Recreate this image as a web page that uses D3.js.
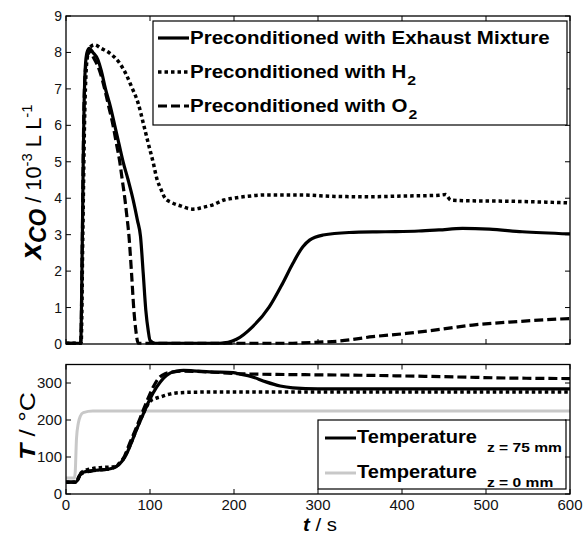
<!DOCTYPE html>
<html><head><meta charset="utf-8">
<script src="https://cdn.jsdelivr.net/npm/d3@7"></script>
<style>body{margin:0;background:#fff}svg{display:block}svg text{font-family:Arial,"Liberation Sans",Helvetica,sans-serif}</style>
</head><body><svg id="c" width="584" height="535" font-family="Arial, 'Liberation Sans', sans-serif"></svg>
<script>
// ---- data ----
const xTicks = [0,100,200,300,400,500,600];
const coTicks = [0,1,2,3,4,5,6,7,8,9];
const tTicks = [0,100,200,300];
const coLegend = ["Preconditioned with Exhaust Mixture","Preconditioned with H","Preconditioned with O"];
const coLegendSub = ["","2","2"];
const tLegend = ["Temperature","Temperature"];
const tLegendSub = ["z = 75 mm","z = 0 mm"];

// x_CO in 10^-3 L/L, [t (s), value]
const coExhaust = [[0,0.02],[17.5,0.02],[19,2],[20.5,5],[21.5,6.5],[23,7.6],[25,8.0],[27.7,8.11],[32,8.0],[38,7.8],[42,7.5],[47,7.0],[53,6.5],[58,6.0],[63,5.5],[68,5.0],[74,4.5],[80,3.95],[85,3.4],[88.7,2.95],[91.9,1.95],[95,0.93],[98,0.35],[100,0.1],[106,0.02],[183,0.02],[203,0.13],[222,0.47],[242,1.02],[258,1.67],[270,2.21],[282,2.67],[290,2.85],[306,2.99],[337,3.06],[380,3.08],[420,3.1],[444,3.13],[472,3.17],[504,3.15],[543,3.08],[600,3.02]];
const coH2 = [[0,0.02],[18,0.02],[20,3],[22,6],[25,7.8],[29,8.15],[34,8.21],[42,8.11],[52,7.98],[64,7.7],[72,7.38],[78,7.06],[86,6.6],[92,6.06],[98,5.5],[104,4.96],[108,4.55],[113,4.25],[118,4.0],[126,3.88],[135,3.8],[151,3.7],[163,3.75],[175,3.82],[188,3.95],[199,4.0],[215,4.05],[238,4.09],[278,4.09],[320,4.05],[360,4.04],[400,4.06],[444,4.08],[452,4.1],[458,3.95],[480,3.93],[520,3.92],[560,3.9],[600,3.87]];
const coO2 = [[0,0.02],[17.5,0.02],[19.5,3],[21,6],[23,7.5],[26,7.95],[29,8.0],[33,7.85],[40,7.5],[46,7.0],[51,6.5],[56,6.0],[60,5.5],[64,5.0],[67,4.5],[70,4.0],[72,3.6],[75,2.95],[78,1.95],[80.8,0.93],[83,0.4],[86,0.02],[260,0.02],[300,0.05],[325,0.08],[365,0.2],[405,0.29],[445,0.4],[484,0.52],[540,0.62],[600,0.7]];

// Temperature in °C, [t (s), value]
const tExhaust = [[0,32],[10.7,32],[13,35],[16.6,52],[20,58],[24.6,61],[40,65],[50,67],[56,70],[62,78],[68,92],[72,108],[76,129],[84,174],[91.8,215],[99.8,256],[107.7,288],[113,305],[119.6,320],[125,328],[131.5,332],[140,334],[151,333],[171,330],[199,328],[207,324],[220,318],[238,303],[255,292],[270,287],[300,284],[400,284],[500,284],[600,284]];
const tH2 = [[0,32],[11,32],[14,40],[17,55],[22,63],[30,68],[45,72],[55,73],[62,80],[68,95],[76,130],[84,176],[92,218],[99.8,250],[106,258],[112,262],[120,268],[131,273],[150,275],[200,276],[300,276],[400,276],[500,276],[600,276]];
const tO2 = [[0,32],[11,32],[14,38],[17,52],[22,58],[30,62],[45,66],[55,69],[62,78],[68,94],[72,115],[76,138],[82,170],[90,215],[97,255],[104,290],[110,312],[118,325],[128,330],[140,332],[170,330],[207,325],[260,323],[350,321],[450,317],[540,313],[600,312]];
const tInlet = [[0,43],[10,43],[11,60],[12.5,150],[14.7,192],[17,210],[20.6,220],[32,224],[100,224],[600,224]];

// ---- drawing ----
const svg = d3.select("#c");
const L = 66, R = 570;
const x = d3.scaleLinear().domain([0,600]).range([L,R]);
const yT = d3.scaleLinear().domain([0,9]).range([344,16]);
const yB = d3.scaleLinear().domain([0,350]).range([494,364.5]);

const styles = {
  solid: {dash:null, color:"#000", w:3.2},
  dotted: {dash:"3.5,3", color:"#000", w:3.5},
  dashed: {dash:"9,4", color:"#000", w:3.2},
  gray: {dash:null, color:"#c8c8c8", w:3}
};

function frame(y){
  const r = y.range();
  svg.append("rect").attr("x",L).attr("y",r[1]).attr("width",R-L).attr("height",r[0]-r[1])
    .attr("fill","none").attr("stroke","#000").attr("stroke-width",1.3);
}
function ticks(y, yt, fs, showX){
  const r = y.range();
  const g = svg.append("g").attr("stroke","#000").attr("stroke-width",1);
  xTicks.forEach(t=>{
    g.append("line").attr("x1",x(t)).attr("x2",x(t)).attr("y1",r[0]).attr("y2",r[0]-5);
    g.append("line").attr("x1",x(t)).attr("x2",x(t)).attr("y1",r[1]).attr("y2",r[1]+5);
  });
  yt.forEach(v=>{
    g.append("line").attr("x1",L).attr("x2",L+5).attr("y1",y(v)).attr("y2",y(v));
    g.append("line").attr("x1",R).attr("x2",R-5).attr("y1",y(v)).attr("y2",y(v));
  });
  const tl = svg.append("g").attr("font-size",fs).attr("fill","#111");
  yt.forEach(v=>{
    tl.append("text").attr("x",L-4).attr("y",y(v)).attr("dy","0.36em").attr("text-anchor","end").text(v);
  });
  if(showX){
    xTicks.forEach(t=>{
      tl.append("text").attr("x",x(t)).attr("y",r[0]+16).attr("text-anchor","middle").text(t);
    });
  }
}
function series(y, data, st){
  const line = d3.line().x(d=>x(d[0])).y(d=>y(d[1])).curve(d3.curveMonotoneX);
  svg.append("path").attr("d",line(data)).attr("fill","none")
    .attr("stroke",styles[st].color).attr("stroke-width",styles[st].w)
    .attr("stroke-dasharray",styles[st].dash).attr("stroke-linejoin","round");
}
function fitText(sel, target){
  const w = sel.node().getComputedTextLength();
  return target / w;
}

// top panel
series(yT, coO2, "dashed");
series(yT, coH2, "dotted");
series(yT, coExhaust, "solid");
frame(yT);
ticks(yT, coTicks, 14, false);

// top legend
svg.append("rect").attr("x",153).attr("y",21).attr("width",414).attr("height",104)
  .attr("fill","#fff").attr("stroke","#000").attr("stroke-width",1.2);
const legSt = ["solid","dotted","dashed"];
const legY = [38,72,106];
const legBase = [44,78,112];
let f0 = null;
coLegend.forEach((s,i)=>{
  svg.append("line").attr("x1",158).attr("x2",189).attr("y1",legY[i]).attr("y2",legY[i])
    .attr("stroke","#000").attr("stroke-width",styles[legSt[i]].w).attr("stroke-dasharray",styles[legSt[i]].dash);
  const t = svg.append("text").attr("font-size",17.5).attr("font-weight","bold").text(s);
  if(f0===null) f0 = fitText(t, 360);
  t.attr("transform",`translate(190,${legBase[i]}) scale(${f0},1)`);
  if(coLegendSub[i]){
    const w = t.node().getComputedTextLength()*f0;
    svg.append("text").attr("font-size",13.5).attr("font-weight","bold")
      .attr("transform",`translate(${190+w+1},${legBase[i]+7}) scale(${f0},1)`).text(coLegendSub[i]);
  }
});

// bottom panel
series(yB, tInlet, "gray");
series(yB, tH2, "dotted");
series(yB, tO2, "dashed");
series(yB, tExhaust, "solid");
frame(yB);

// bottom legend
svg.append("rect").attr("x",318).attr("y",420).attr("width",248).attr("height",69)
  .attr("fill","#fff").attr("stroke","#000").attr("stroke-width",1.2);
const tlSt = ["solid","gray"];
const tlY = [438,473];
const tlBase = [443,478];
let f1=null, f2=null;
tLegend.forEach((s,i)=>{
  svg.append("line").attr("x1",325).attr("x2",356).attr("y1",tlY[i]).attr("y2",tlY[i])
    .attr("stroke",styles[tlSt[i]].color).attr("stroke-width",3);
  const t = svg.append("text").attr("font-size",18).attr("font-weight","bold").text(s);
  if(f1===null) f1 = fitText(t,120);
  t.attr("transform",`translate(357,${tlBase[i]}) scale(${f1},1)`);
  const sub = svg.append("text").attr("font-size",13).attr("font-weight","bold").text(tLegendSub[i]);
  if(f2===null) f2 = fitText(sub,75);
  sub.attr("transform",`translate(487,${tlBase[i]+9}) scale(${f2},1)`);
});
ticks(yB, tTicks, 15, true);

// axis labels
const yl = svg.append("text").attr("font-size",22).attr("text-anchor","middle");
yl.append("tspan").attr("font-weight","bold").attr("font-style","italic").attr("font-size",30).text("x");
yl.append("tspan").attr("font-weight","bold").attr("font-style","italic").attr("font-size",23).attr("dy",5).text("CO");
yl.append("tspan").attr("dy",-5).text(" / 10");
yl.append("tspan").attr("font-size",15).attr("dy",-9).text("-3");
yl.append("tspan").attr("dy",9).text(" L L");
yl.append("tspan").attr("font-size",15).attr("dy",-9).text("-1");
const fy = fitText(yl,155);
yl.attr("transform",`translate(41,182) rotate(-90) scale(${fy},1)`);

const tl2 = svg.append("text").attr("font-size",22).attr("text-anchor","middle");
tl2.append("tspan").attr("font-weight","bold").attr("font-style","italic").text("T");
tl2.append("tspan").text(" / °C");
const ft = fitText(tl2,68);
tl2.attr("transform",`translate(35,426) rotate(-90) scale(${ft},1)`);

const xl = svg.append("text").attr("font-size",19).attr("text-anchor","middle");
xl.append("tspan").attr("font-weight","bold").attr("font-style","italic").text("t");
xl.append("tspan").text(" / s");
const fx = fitText(xl,34);
xl.attr("transform",`translate(320,531) scale(${fx},1)`);
</script></body></html>
